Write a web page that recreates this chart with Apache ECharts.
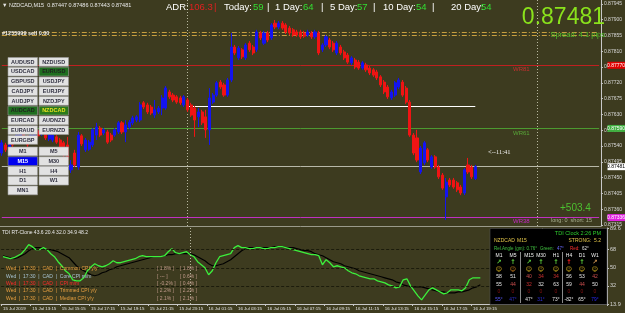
<!DOCTYPE html>
<html><head><meta charset="utf-8">
<script src="https://cdn.jsdelivr.net/npm/echarts@6/dist/echarts.min.js"></script>
<style>html,body{margin:0;padding:0;background:#3d3b1f;}#c{width:625px;height:313px;}</style>
</head><body><div id="c"></div><script>
// ---- price data (NZDCAD M15) ----
const opens=[0.87520,0.87543,0.87537,0.87563,0.87551,0.87563,0.87577,0.87566,0.87551,0.87566,
0.87583,0.87574,0.87586,0.87560,0.87557,0.87566,0.87557,0.87549,0.87543,0.87472,
0.87520,0.87480,0.87569,0.87529,0.87531,0.87543,0.87571,0.87591,0.87577,0.87580,
0.87571,0.87571,0.87580,0.87606,0.87580,0.87594,0.87606,0.87614,0.87614,0.87663,
0.87657,0.87651,0.87628,0.87637,0.87648,0.87648,0.87694,0.87685,0.87680,0.87677,
0.87657,0.87671,0.87657,0.87648,0.87623,0.87637,0.87623,0.87586,0.87665,0.87685,
0.87722,0.87714,0.87685,0.87728,0.87822,0.87791,0.87814,0.87791,0.87833,0.87822,
0.87814,0.87862,0.87833,0.87862,0.87848,0.87890,0.87879,0.87890,0.87885,0.87876,
0.87871,0.87865,0.87865,0.87862,0.87856,0.87862,0.87851,0.87862,0.87814,0.87828,
0.87842,0.87833,0.87805,0.87822,0.87808,0.87799,0.87777,0.87785,0.87779,0.87762,
0.87771,0.87762,0.87757,0.87751,0.87737,0.87722,0.87708,0.87677,0.87685,0.87708,
0.87722,0.87705,0.87665,0.87571,0.87563,0.87466,0.87492,0.87529,0.87480,0.87509,
0.87480,0.87457,0.87395,0.87443,0.87443,0.87435,0.87423,0.87406,0.87486,0.87480,
0.87447];
const closes=[0.87549,0.87529,0.87557,0.87543,0.87571,0.87580,0.87557,0.87543,0.87571,0.87586,
0.87569,0.87591,0.87563,0.87580,0.87571,0.87551,0.87534,0.87514,0.87500,0.87486,
0.87486,0.87571,0.87546,0.87557,0.87551,0.87586,0.87594,0.87571,0.87586,0.87551,
0.87557,0.87586,0.87606,0.87580,0.87600,0.87608,0.87620,0.87623,0.87657,0.87651,
0.87637,0.87634,0.87643,0.87648,0.87677,0.87705,0.87680,0.87671,0.87665,0.87663,
0.87680,0.87643,0.87628,0.87614,0.87637,0.87606,0.87586,0.87677,0.87685,0.87720,
0.87708,0.87685,0.87728,0.87822,0.87805,0.87819,0.87794,0.87828,0.87814,0.87805,
0.87865,0.87848,0.87862,0.87842,0.87885,0.87879,0.87890,0.87876,0.87865,0.87862,
0.87856,0.87856,0.87851,0.87853,0.87865,0.87851,0.87865,0.87805,0.87828,0.87851,
0.87822,0.87814,0.87833,0.87805,0.87791,0.87779,0.87791,0.87765,0.87762,0.87777,
0.87757,0.87748,0.87742,0.87734,0.87714,0.87694,0.87680,0.87694,0.87720,0.87728,
0.87685,0.87665,0.87571,0.87520,0.87500,0.87534,0.87549,0.87500,0.87509,0.87480,
0.87452,0.87420,0.87437,0.87429,0.87423,0.87415,0.87406,0.87472,0.87466,0.87452,
0.87481];
const highs=[0.87557,0.87549,0.87563,0.87569,0.87577,0.87586,0.87583,0.87571,0.87577,0.87591,
0.87588,0.87597,0.87591,0.87586,0.87577,0.87571,0.87563,0.87554,0.87566,0.87500,
0.87529,0.87580,0.87574,0.87563,0.87557,0.87591,0.87606,0.87597,0.87591,0.87586,
0.87577,0.87591,0.87611,0.87611,0.87614,0.87614,0.87626,0.87628,0.87665,0.87668,
0.87663,0.87657,0.87671,0.87654,0.87685,0.87711,0.87700,0.87691,0.87685,0.87683,
0.87685,0.87677,0.87663,0.87654,0.87648,0.87643,0.87643,0.87705,0.87691,0.87725,
0.87728,0.87720,0.87734,0.87862,0.87828,0.87825,0.87819,0.87833,0.87839,0.87828,
0.87871,0.87868,0.87868,0.87868,0.87890,0.87899,0.87896,0.87896,0.87890,0.87882,
0.87876,0.87871,0.87871,0.87868,0.87871,0.87868,0.87871,0.87868,0.87833,0.87856,
0.87848,0.87839,0.87839,0.87828,0.87814,0.87805,0.87796,0.87791,0.87785,0.87782,
0.87777,0.87768,0.87762,0.87757,0.87742,0.87728,0.87714,0.87700,0.87725,0.87734,
0.87728,0.87711,0.87671,0.87577,0.87586,0.87540,0.87554,0.87534,0.87514,0.87514,
0.87486,0.87463,0.87449,0.87449,0.87449,0.87440,0.87429,0.87477,0.87506,0.87486,
0.87486];
const lows=[0.87512,0.87523,0.87531,0.87537,0.87546,0.87557,0.87551,0.87537,0.87546,0.87560,
0.87563,0.87569,0.87557,0.87554,0.87551,0.87546,0.87529,0.87509,0.87492,0.87463,
0.87480,0.87472,0.87540,0.87523,0.87526,0.87537,0.87557,0.87566,0.87571,0.87546,
0.87551,0.87566,0.87574,0.87574,0.87551,0.87588,0.87600,0.87608,0.87608,0.87645,
0.87631,0.87628,0.87620,0.87631,0.87628,0.87643,0.87674,0.87665,0.87660,0.87657,
0.87651,0.87637,0.87623,0.87566,0.87594,0.87600,0.87563,0.87543,0.87660,0.87680,
0.87702,0.87680,0.87680,0.87722,0.87799,0.87785,0.87788,0.87785,0.87808,0.87799,
0.87808,0.87842,0.87828,0.87836,0.87842,0.87873,0.87873,0.87871,0.87859,0.87856,
0.87851,0.87851,0.87845,0.87848,0.87851,0.87845,0.87845,0.87799,0.87808,0.87822,
0.87816,0.87808,0.87799,0.87799,0.87785,0.87774,0.87771,0.87759,0.87757,0.87757,
0.87751,0.87742,0.87737,0.87728,0.87708,0.87688,0.87674,0.87671,0.87680,0.87702,
0.87680,0.87660,0.87566,0.87514,0.87494,0.87460,0.87486,0.87494,0.87475,0.87475,
0.87446,0.87415,0.87329,0.87423,0.87418,0.87409,0.87400,0.87400,0.87460,0.87446,
0.87443];
// ---- TDI indicator ----
const tdiPriceLine=[61,60,59,60,62,64,68,73,71,68,
68,70,68,64,61,56,52,47,44,38,
37,37,40,47,51,54,52,51,52,54,
57,55,55,56,57,58,59,61,62,61,
61,61,61,61,62,66,69,65,64,65,
66,63,61,56,53,50,43,47,55,61,
62,63,64,70,72,70,70,69,69,70,
70,69,69,70,70,71,71,70,69,68,
67,66,65,64,63,63,62,53,58,55,
51,52,51,50,47,45,44,42,41,40,
39,39,37,36,35,33,32,30,31,38,
39,32,27,22,18,23,28,30,28,26,
24,25,28,28,28,27,30,38,40,40,
40];
const tdiSignal=[62,61,60,59,60,62,64,67,69,70,
70,69,68,68,67,66,64,62,60,56,
52,49,47,45,43,42,43,45,46,48,
49,51,52,53,54,55,56,57,58,59,
60,61,61,61,62,63,63,64,64,64,
64,64,63,61,59,57,54,52,52,53,
54,56,58,61,64,67,69,70,70,70,
70,70,70,70,71,71,71,70,70,70,
69,68,67,67,66,64,63,62,60,58,
56,55,54,52,51,50,49,47,46,45,
44,43,42,41,40,39,38,36,35,33,
32,31,31,31,31,30,29,28,27,26,
26,25,25,25,26,26,27,28,30,31,
33];
const tdiLevels=[68,50,32];
const tdiTicks=[89.6,68,50,32,13.9];
const priceTicks=[0.87945,0.87900,0.87855,0.87810,0.87765,0.87720,0.87675,0.87630,0.87585,0.87540,0.87495,0.87450,0.87405,0.87360,0.87315];
const timeTickLabels=['15 Jul 2019','15 Jul 13:15','15 Jul 15:15','15 Jul 17:15','15 Jul 19:15','15 Jul 21:15','15 Jul 23:15',
'16 Jul 01:15','16 Jul 03:15','16 Jul 05:15','16 Jul 07:15','16 Jul 09:15','16 Jul 11:15','16 Jul 13:15','16 Jul 15:15','16 Jul 17:15','16 Jul 19:15'];
// horizontal levels
const adrLevels=[0.87865,0.87856];
const wr81=0.87770, wr61=0.87590, wr38=0.87336, bid=0.87481, pivotLevel=0.87654;
const daySepIdx=[51,147];
const pivotFrom=51, pivotTo=130;

// category slots (15-minute bars from 15 Jul 11:15, incl. empty right margin)
const slots=165;
const cats=[];
for(let i=0;i<slots;i++){const m=11*60+15+i*15;const d=15+Math.floor(m/1440);const mm=m%1440;
cats.push(d+' Jul '+String(Math.floor(mm/60)).padStart(2,'0')+':'+String(mm%60).padStart(2,'0'));}
const candles=opens.map((o,i)=>[o,closes[i],lows[i],highs[i]]);

const FF='"Liberation Sans", Arial, sans-serif';
const g=[];
function T(x,y,text,fill,size,align,extra){g.push({type:'text',x:x,y:y,z:120,silent:true,style:{text:text,fill:fill,font:(extra&&extra.weight?extra.weight+' ':'')+size+'px '+((extra&&extra.family)||FF),textAlign:align||'left',align:align||'left',textVerticalAlign:'middle',verticalAlign:'middle'}});}
function R(x,y,w,h,fill,stroke){g.push({type:'rect',z:110,silent:true,shape:{x:x,y:y,width:w,height:h},style:{fill:fill,stroke:stroke||null,lineWidth:stroke?0.6:0}});}
function L(x1,y1,x2,y2,c){g.push({type:'line',z:115,silent:true,shape:{x1:x1,y1:y1,x2:x2,y2:y2},style:{stroke:c,lineWidth:1}});}

// header
T(2,5,'\u25BC NZDCAD,M15  0.87447 0.87486 0.87443 0.87481','#e8e8e8',5.5);
T(2,33.5,'#1255999 sell 0.00','#f0f0f0',5.5,'left',{weight:'bold'});
const stats=[[166,'ADR:','#ffffff'],[189,'106.3','#e02020'],[214,'|','#e02020'],[224,'Today:','#ffffff'],[253,'59','#33dd33'],[267,'|','#ffffff'],
[275,'1 Day:','#ffffff'],[303,'64','#33dd33'],[321,'|','#ffffff'],[330,'5 Day:','#ffffff'],[357,'57','#33dd33'],[373,'|','#ffffff'],
[383,'10 Day:','#ffffff'],[416,'54','#33dd33'],[432,'|','#ffffff'],[451,'20 Day:','#ffffff'],[481,'54','#33dd33']];
stats.forEach(s=>T(s[0],7.5,s[1],s[2],9.5));
T(605,18,'0.87481','#8ae21c',23,'right');
T(605,35,'Spread: 4.1 pips','#4fbf2a',7.5,'right');
T(513,69,'WR81','#c83030',6);
T(513,133,'WR61','#58a838',6);
T(513,221,'WR38','#c828c8',6);
T(488,152,'<--11:41','#f0f0f0',6.5,'left',{family:'"Liberation Serif", serif'});
T(560,208.5,'+503.4','#4cc030',10);
T(551,220,'long: 0  short: 15','#a8b090',5.5);

// symbol / timeframe buttons
const pairRows=[['AUDUSD','NZDUSD'],['USDCAD','EURUSD'],['GBPUSD','USDJPY'],['CADJPY','EURJPY'],['AUDJPY','NZDJPY'],['AUDCAD','NZDCAD'],['EURCAD','AUDNZD'],['EURAUD','EURNZD'],['EURGBP']];
const tfRows=[['M1','M5'],['M15','M30'],['H1','H4'],['D1','W1'],['MN1']];
const special={EURUSD:['#1f6f1f','#202020'],AUDCAD:['#1f6f1f','#202020'],NZDCAD:['#2a7a1a','#e8e020'],M15:['#0000f0','#ffffff']};
function drawBtns(rows,top){rows.forEach((r,ri)=>r.forEach((t,ci)=>{const x=8+ci*31,y=top+ri*9.75;const s=special[t]||['#e2e2e2','#303040'];
R(x,y,29.5,8.8,s[0],'#9a9a9a');T(x+14.75,y+4.6,t,s[1],5.5,'center',{weight:'bold'});}));}
drawBtns(pairRows,57.5);drawBtns(tfRows,147);

// TDI window texts
T(2,233,'TDI RT-Clone 43.6 20.4 32.0 34.9 48.2','#e8e8e8',5);
const news=[['Common CPI y/y','#e8a040','[ 1.8% ]','[ 1.8% ]'],['Core CPI m/m','#a8c4d4','[ --- ]','[ 0.6% ]'],['CPI m/m','#ff2a2a','[ -0.2% ]','[ 0.4% ]'],
['Trimmed CPI y/y','#e8a040','[ 2.2% ]','[ 2.2% ]'],['Median CPI y/y','#e8a040','[ 2.1% ]','[ 2.1% ]']];
news.forEach((n,k)=>{const y=269+k*7.3;T(6,y,'Wed  |  17:30  |  CAD  |  '+n[0],n[1],5);T(157,y,n[2],'#c09a8a',5);T(180,y,n[3],'#c09a8a',5);});

// TDI info box
R(490,228.5,117,76,'#000000','#505050');
T(601,233.5,'TDI Clock 2:26 PM','#2ecc2e',5.5,'right');
T(494,241,'NZDCAD','#e6c84a',5);T(517,241,'M15','#e6c84a',5);T(601,241,'STRONG:  5.2','#e6c84a',5,'right');
T(494,248.5,'Rel.Angle (gm): 0.76\u00B0','#40c040',4.5);T(540,248.5,'Green:','#40c040',4.5);T(557,248.5,'47\u00B0','#6a6aff',4.5);T(570,248.5,'Red:','#ff3030',4.5);T(582,248.5,'62\u00B0','#e0e0e0',4.5);
const colX=[499,513,529,541,556,569,582,595];
const tfs=['M1','M5','M15','M30','H1','H4','D1','W1'];
const arrows=['\u2197','\u2191','\u2197','\u2191','\u2191','\u2191','\u2191','\u2197'];
const arrowCol=['#5ccc3c','#5ccc3c','#5ccc3c','#5ccc3c','#5ccc3c','#ff2020','#5ccc3c','#c89050'];
const r1=['58','51','40','34','34','56','53','42'], r1c=['#e8e8e8','#e8e8e8','#d05050','#d03030','#d03030','#e8e8e8','#e8e8e8','#d05050'];
const r2=['55','44','32','32','63','59','44','50'], r2c=['#e8e8e8','#d05050','#d03030','#e8e8e8','#e8e8e8','#e8e8e8','#d05050','#e8e8e8'];
const r4=['55\u00B0','47\u00B0','47\u00B0','31\u00B0','73\u00B0','-82\u00B0','65\u00B0','79\u00B0'], r4c=['#5a5aff','#3030d0','#e8e8e8','#3030e0','#e8e8e8','#e8e8e8','#e8e8e8','#2a2aff'];
colX.forEach((x,k)=>{T(x,256,tfs[k],'#f0f0f0',5,'center');T(x,262.5,arrows[k],arrowCol[k],6.5,'center',{weight:'bold',family:'"DejaVu Sans", sans-serif'});
T(x,269,'\u263A',k===1?'#e08a20':'#e8c020',6,'center',{family:'"DejaVu Sans", sans-serif'});
T(x,277,r1[k],r1c[k],5,'center');T(x,284.5,r2[k],r2c[k],5,'center');T(x,292,'0','#8a1010',5,'center');T(x,299.5,r4[k],r4c[k],4.8,'center');});
L(520.5,252,520.5,303,'#8a8a8a');L(562.5,252,562.5,303,'#8a8a8a');

// full-width horizontal level, drawn as a markLine between first and last slot
const hLine=(v,c,t,w)=>[{coord:[cats[0],v],lineStyle:{color:c,type:t||'solid',width:w||1},label:{show:false}},{coord:[cats[slots-1],v]}];
const option={
 animation:false,backgroundColor:'#3d3b1f',
 grid:[{left:-2,right:18,top:0,height:226},{left:-2,right:18,top:228,height:76}],
 xAxis:[
  {type:'category',gridIndex:0,data:cats,boundaryGap:true,axisLine:{show:true,lineStyle:{color:'#9a9a8a',width:1}},axisTick:{show:false},axisLabel:{show:false},splitLine:{show:false}},
  {type:'category',gridIndex:1,data:cats,boundaryGap:true,axisLine:{show:true,lineStyle:{color:'#c8c8c8',width:1}},
   axisTick:{show:true,interval:(i)=>i%8===0&&i<=128,length:2,lineStyle:{color:'#c8c8c8'}},
   axisLabel:{interval:(i)=>i%8===0&&i<=128,formatter:(v,i)=>timeTickLabels[i/8]||'',align:'left',color:'#e4e4e4',fontSize:4.4,fontFamily:FF,margin:3},splitLine:{show:false}}
 ],
 yAxis:[
  {type:'value',gridIndex:0,position:'right',min:0.87312,max:0.87956,scale:true,
   axisLine:{show:true,lineStyle:{color:'#c8c8c8'}},splitLine:{show:false},
   axisTick:{show:true,customValues:priceTicks,length:2,lineStyle:{color:'#c8c8c8'}},
   axisLabel:{customValues:priceTicks,formatter:v=>v.toFixed(5),color:'#d8d8d8',fontSize:5,fontFamily:FF,margin:3}},
  {type:'value',gridIndex:1,position:'right',min:13.9,max:89.6,
   axisLine:{show:true,lineStyle:{color:'#c8c8c8'}},splitLine:{show:false},
   axisTick:{show:true,customValues:tdiTicks,length:2,lineStyle:{color:'#c8c8c8'}},
   axisLabel:{customValues:tdiTicks,formatter:v=>String(v),color:'#d8d8d8',fontSize:5.5,fontFamily:FF,margin:3}}
 ],
 series:[
  {type:'candlestick',xAxisIndex:0,yAxisIndex:0,data:candles,barWidth:2.6,z:3,
   itemStyle:{color:'#1414f0',color0:'#f01414',borderColor:'#1414f0',borderColor0:'#f01414',borderWidth:1},
   markLine:{silent:true,symbol:['none','none'],animation:false,z:1,
    data:[
     hLine(adrLevels[0],'#c8a040',[5,2,1,2]),hLine(adrLevels[1],'#c8a040',[5,2,1,2]),
     hLine(wr81,'#c02020'),hLine(wr61,'#4c9a30'),hLine(bid,'#b8b8a8'),hLine(wr38,'#c030c0'),
     [{coord:[cats[pivotFrom],pivotLevel],lineStyle:{color:'#ffffff',type:'solid',width:1.2},label:{show:false}},{coord:[cats[pivotTo],pivotLevel]}],
     {xAxis:cats[daySepIdx[0]],lineStyle:{color:'#b8b8a0',type:[1,2],width:1},label:{show:false}},
     {xAxis:cats[daySepIdx[1]],lineStyle:{color:'#b8b8a0',type:[1,2],width:1},label:{show:false}}
    ]}},
  {type:'line',xAxisIndex:1,yAxisIndex:1,data:tdiSignal,symbol:'none',lineStyle:{color:'#000000',width:1.2},z:3},
  {type:'line',xAxisIndex:1,yAxisIndex:1,data:tdiPriceLine,symbol:'none',lineStyle:{color:'#3cf03c',width:1.3},z:4,
   markLine:{silent:true,symbol:['none','none'],animation:false,
    data:tdiLevels.map(v=>({yAxis:v,lineStyle:{color:'#1c1c0c',type:[3,2],width:1},label:{show:false}})).concat(
     daySepIdx.map(i=>({xAxis:cats[i],lineStyle:{color:'#b8b8a0',type:[1,2],width:1},label:{show:false}})))}}
 ],
 graphic:{elements:g}
};
const chart=echarts.init(document.getElementById('c'),null,{renderer:'canvas'});
chart.setOption(option);
// price boxes on the right axis, placed through the axis scale
const boxes=[[wr81,'#e00000','#ffffff'],[wr61,'#40b040','#ffffff'],[bid,'#ffffff','#000000'],[wr38,'#e020e0','#ffffff']];
boxes.forEach(b=>{const y=chart.convertToPixel({yAxisIndex:0},b[0]);R(607.5,y-3.5,17.5,7,b[1]);T(616,y,b[0].toFixed(5),b[2],5,'center');});
chart.setOption({graphic:{elements:g}});
</script></body></html>
